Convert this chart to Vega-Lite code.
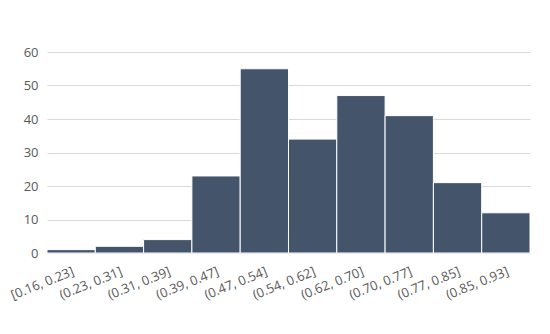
{
  "$schema": "https://vega.github.io/schema/vega-lite/v6.json",
  "autosize": {"type": "none"},
  "width": 483,
  "height": 201,
  "padding": {"left": 47, "top": 52, "right": 20, "bottom": 81},
  "background": "white",
  "config": {"view": {"stroke": null}, "font": "Open Sans"},
  "data": {"values": [
    {"bin": "[0.16, 0.23]", "count": 1},
    {"bin": "(0.23, 0.31]", "count": 2},
    {"bin": "(0.31, 0.39]", "count": 4},
    {"bin": "(0.39, 0.47]", "count": 23},
    {"bin": "(0.47, 0.54]", "count": 55},
    {"bin": "(0.54, 0.62]", "count": 34},
    {"bin": "(0.62, 0.70]", "count": 47},
    {"bin": "(0.70, 0.77]", "count": 41},
    {"bin": "(0.77, 0.85]", "count": 21},
    {"bin": "(0.85, 0.93]", "count": 12}
  ]},
  "mark": {"type": "bar", "color": "#44546a", "stroke": "white", "strokeWidth": 1},
  "encoding": {
    "x": {"field": "bin", "type": "nominal", "sort": null,
      "scale": {"paddingInner": 0, "paddingOuter": 0},
      "axis": {"title": null, "labelAngle": -22, "labelAlign": "right", "labelBaseline": "top",
        "labelFontSize": 13, "labelColor": "#595959", "ticks": false, "domain": false, "labelPadding": 12}},
    "y": {"field": "count", "type": "quantitative",
      "scale": {"domain": [0, 60], "nice": false},
      "axis": {"title": null, "values": [0, 10, 20, 30, 40, 50, 60], "labelFontSize": 13, "labelColor": "#595959",
        "ticks": false, "domain": false, "gridColor": "#d9d9d9", "gridWidth": 1, "labelPadding": 9}}
  }
}
